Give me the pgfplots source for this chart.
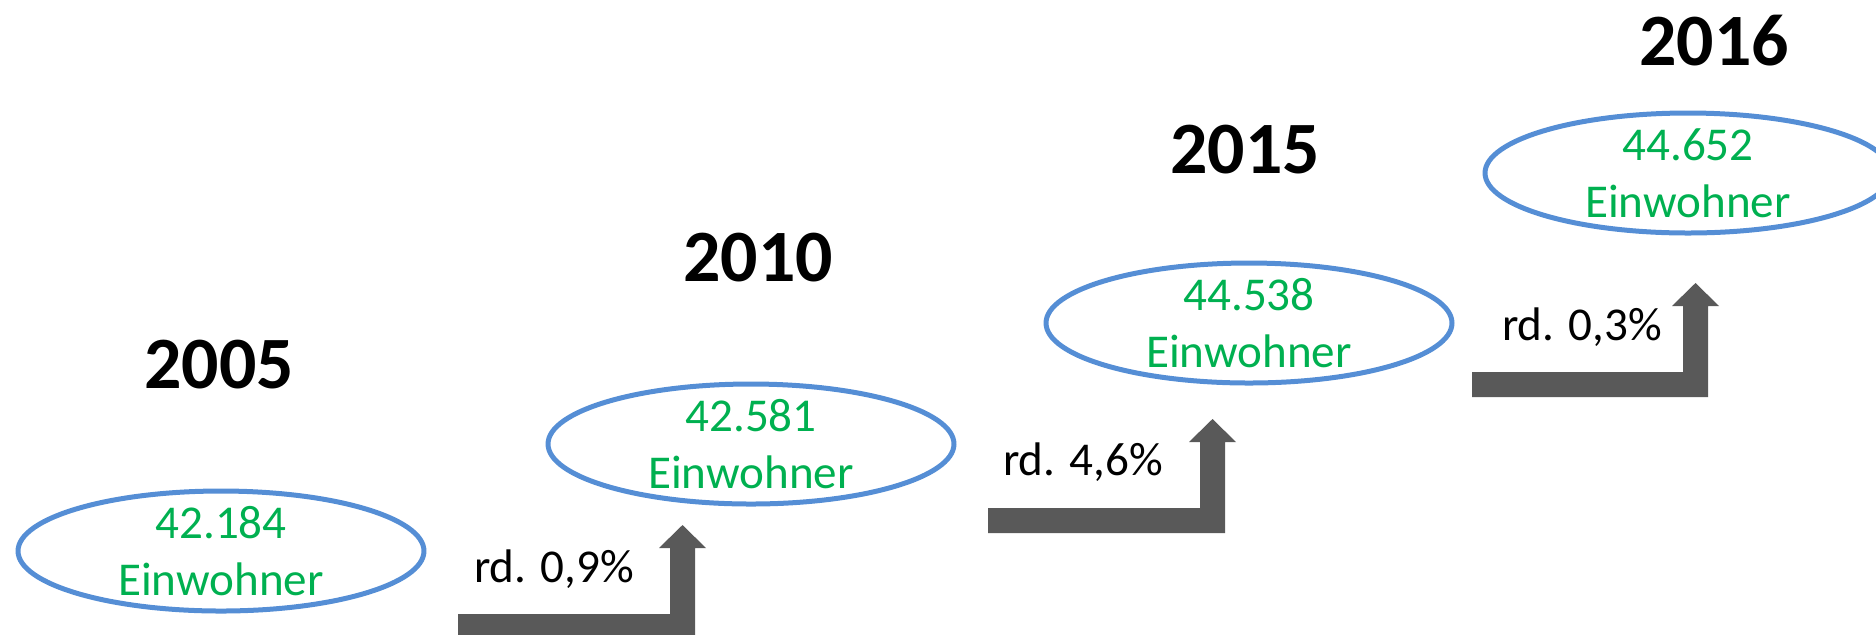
\documentclass[border=0pt]{standalone}
\usepackage{pgfplots}
\pgfplotsset{compat=1.18}
\usepackage{fontspec}
\setmainfont{Carlito}

\definecolor{ellblue}{HTML}{558ED5}
\definecolor{popgreen}{HTML}{00B050}
\definecolor{arrgray}{HTML}{595959}

\begin{document}
\begin{tikzpicture}
\begin{axis}[
  scale only axis, width=187.6mm, height=63.4mm,
  xmin=0, xmax=1876, ymin=0, ymax=634, y dir=reverse,
  hide axis, clip=false
]
% step arrows
\addplot[fill=arrgray, draw=none] coordinates {
  (458,639) (695,639) (695,548) (706,548) (682.5,525) (659,548) (670,548) (670,614) (458,614)} -- cycle;
\addplot[fill=arrgray, draw=none] coordinates {
  (988,533) (1225,533) (1225,442) (1236,442) (1212.5,419) (1189,442) (1200,442) (1200,508) (988,508)} -- cycle;
\addplot[fill=arrgray, draw=none] coordinates {
  (1472,397) (1708,397) (1708,306) (1719,306) (1695.5,283) (1672,306) (1683,306) (1683,372) (1472,372)} -- cycle;

% population ellipses
\addplot[only marks, mark=o, mark size=6mm, line width=0.5mm,
  every mark/.append style={xscale=3.383, draw=ellblue, line width=0.5mm},
  point meta=explicit symbolic,
  nodes near coords={\pgfplotspointmeta\\Einwohner},
  every node near coord/.style={anchor=center, align=center, text=popgreen,
    inner sep=0pt, font=\fontsize{13.4}{16.2}\selectfont}]
coordinates {(221,551) [42.184] (751,444) [42.581] (1249,323) [44.538] (1688,173) [44.652]};

% years
\addplot[only marks, mark=none, point meta=explicit symbolic,
  nodes near coords,
  every node near coord/.style={anchor=base, inner sep=0pt, text=black,
    font=\bfseries\fontsize{21}{25}\selectfont}]
coordinates {(219,388) [2005] (758,281) [2010] (1245,173) [2015] (1714,65) [2016]};

% growth rates
\addplot[only marks, mark=none, point meta=explicit symbolic,
  nodes near coords,
  every node near coord/.style={anchor=base, inner sep=0pt, text=black,
    font=\fontsize{13.4}{16}\selectfont}]
coordinates {(554,582) [rd. 0,9\%] (1083,475) [rd. 4,6\%] (1582,340) [rd. 0,3\%]};
\end{axis}
\pgfresetboundingbox
\path[use as bounding box] (current axis.south west) rectangle (current axis.north east);
\end{tikzpicture}
\end{document}
